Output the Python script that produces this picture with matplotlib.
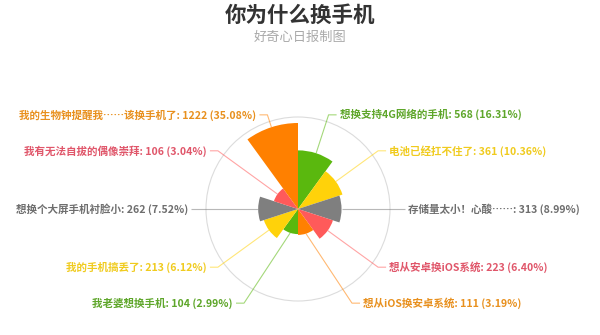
"""
plot.py - Rose chart: why people change their phone.

Usage:  python3 plot.py
Output: out.png
"""

import matplotlib.pyplot as plt
import numpy as np
from matplotlib.patches import Circle, Wedge

plt.rcParams["font.family"] = ["Noto Sans CJK SC", "DejaVu Sans"]

# data (clockwise from 12 o'clock)
reasons = [
    "想换支持4G网络的手机",
    "电池已经扛不住了",
    "存储量太小！心酸……",
    "想从安卓换iOS系统",
    "想从iOS换安卓系统",
    "我老婆想换手机",
    "我的手机搞丢了",
    "想换个大屏手机衬脸小",
    "我有无法自拔的偶像崇拜",
    "我的生物钟提醒我……该换手机了",
]
counts = [568, 361, 313, 223, 111, 104, 213, 262, 106, 1222]
slice_colors = ["#5ab80e", "#ffd20a", "#7f7f7f", "#ff5a5a", "#ff8000"] * 2
text_colors = ["#5ea62a", "#f0cb1e", "#6e6e6e", "#e0566a", "#e8901e"] * 2

title = "你为什么换手机"
subtitle = "好奇心日报制图"


def polar(cx, cy, r, ang):
    # ang in degrees, clockwise from top; y axis points down
    a = np.radians(ang)
    return cx + r * np.sin(a), cy - r * np.cos(a)


def main():
    fig = plt.figure(figsize=(6, 3.35), dpi=100)
    ax = fig.add_axes([0, 0, 1, 1])
    ax.set_xlim(0, 600)
    ax.set_ylim(335, 0)
    ax.axis("off")

    cx, cy = 298, 209
    r_max = 86
    ring_r = 92
    elbow_r = 99
    k = r_max / np.sqrt(max(counts))
    total = sum(counts)
    step = 360 / len(counts)

    ax.add_patch(Circle((cx, cy), ring_r, fill=False, ec="#dcdcdc", lw=0.8))

    for i, (name, v) in enumerate(zip(reasons, counts)):
        a0 = i * step
        a1 = a0 + step
        r = k * np.sqrt(v)
        ax.add_patch(Wedge((cx, cy), r, a0 - 90, a1 - 90,
                           fc=slice_colors[i], ec="none", lw=0))

        mid = a0 + step / 2
        x0, y0 = polar(cx, cy, r, mid)
        x1, y1 = polar(cx, cy, elbow_r, mid)
        side = 1 if x1 > cx else -1
        # labels near the bottom are pushed outwards a bit
        if y1 > cy and abs(x1 - cx) < 50:
            x1 = cx + side * 54
        x2 = x1 + side * 8
        ax.plot([x0, x1, x2], [y0, y1, y1], color=slice_colors[i],
                lw=0.8, alpha=0.55, solid_capstyle="butt")
        pct = v / total * 100
        ax.text(x2 + side * 3, y1, f"{name}: {v} ({pct:.2f}%)",
                color=text_colors[i], fontsize=7.6, fontweight="bold",
                ha="left" if side > 0 else "right", va="center")

    ax.text(300, 15, title, fontsize=15.5, color="#333333",
            fontweight="bold", ha="center", va="center")
    ax.text(300, 37, subtitle, fontsize=9.5, color="#aaaaaa",
            ha="center", va="center")

    fig.savefig("out.png", dpi=100)


if __name__ == "__main__":
    main()
